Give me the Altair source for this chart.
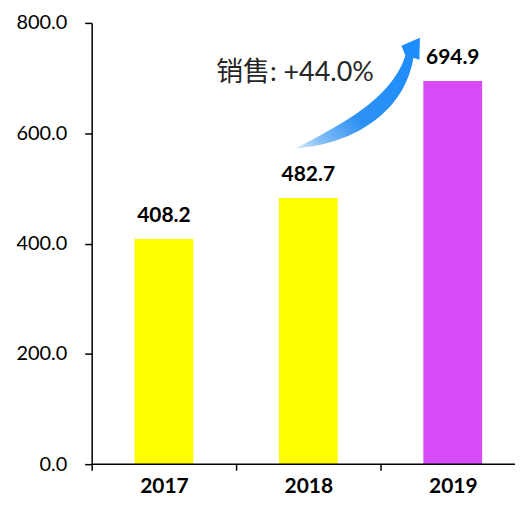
import altair as alt
import pandas as pd

years = ["2017", "2018", "2019"]
sales = [408.2, 482.7, 694.9]
bar_colors = ["#FFFF00", "#FFFF00", "#D84BF8"]
y_ticks = [0, 200, 400, 600, 800]
note_text = "销售: +44.0%"

df = pd.DataFrame({"year": years, "sales": sales, "color": bar_colors})

# decorative arrow outline (unit box -1..1), drawn as a custom symbol
arrow_path = (
    "M -1.0 0.888 C -0.312 0.52 0.52 0.12 0.76 -0.6 "
    "L 0.696 -0.76 L 0.992 -0.888 L 0.984 -0.536 L 0.888 -0.568 "
    "C 0.76 0.248 0.008 0.808 -1.0 0.888 Z"
)
arrow_fill = alt.LinearGradient(
    gradient="linear", x1=0, y1=1, x2=1, y2=0,
    stops=[
        alt.GradientStop(offset=0, color="#d4e9fc"),
        alt.GradientStop(offset=0.15, color="#7dbaf6"),
        alt.GradientStop(offset=0.38, color="#2d91f2"),
        alt.GradientStop(offset=1, color="#1a8cff"),
    ],
)

x_enc = alt.X(
    "year:N", sort=years, title=None,
    scale=alt.Scale(paddingInner=0.593, paddingOuter=0.262, align=0.566),
    axis=alt.Axis(labelAngle=0, labelFont="Lato", labelFontSize=21,
                  labelFontWeight="bold", labelColor="#000", labelPadding=5,
                  tickSize=6, tickColor="#000", tickWidth=1.5,
                  tickOffset=-72.5, labelOffset=72.5, domain=False),
)
y_enc = alt.Y(
    "sales:Q", title=None, scale=alt.Scale(domain=[0, 800]),
    axis=alt.Axis(values=y_ticks, format=".1f", grid=False, labelFont="Lato",
                  labelFontSize=20, labelColor="#000", labelPadding=18,
                  tickSize=7, tickColor="#000", tickWidth=1.5,
                  domainColor="#000", domainWidth=1.5),
)

base = alt.Chart(df)
bars = base.mark_bar().encode(x=x_enc, y=y_enc, color=alt.Color("color:N", scale=None))
labels = base.mark_text(dy=-17, baseline="alphabetic", font="Lato", fontSize=21,
                        fontWeight="bold", color="#000").encode(
    x=x_enc, y=y_enc, text=alt.Text("sales:Q", format=".1f"))

axis_line = alt.Chart(alt.Data(values=[{"v": 0}])).mark_rule(
    color="#000", strokeWidth=1.5).encode(
    y=alt.datum(0), x=alt.value(0), x2=alt.value(425))

note = alt.Chart(alt.Data(values=[{"t": note_text}])).mark_text(
    align="left", baseline="alphabetic", font="Lato, Noto Sans CJK SC",
    fontSize=27, color="#262626").encode(
    x=alt.value(125), y=alt.value(58), text="t:N")

arrow = alt.Chart(alt.Data(values=[{"a": 1}])).mark_point(
    shape=arrow_path, size=15625, filled=True, fill=arrow_fill,
    strokeWidth=0, opacity=1).encode(x=alt.value(267.5), y=alt.value(70.5))

chart = alt.layer(bars, labels, axis_line, note, arrow).properties(
    width=425, height=443,
    autosize=alt.AutoSizeParams(type="none"),
    padding={"left": 84, "top": 14, "right": 0, "bottom": 33},
).configure_view(stroke=None)

chart.save("out.html", embed_options={"renderer": "svg", "actions": False})
